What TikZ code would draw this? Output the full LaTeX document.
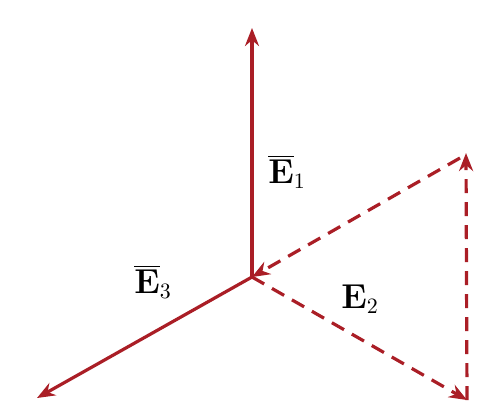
\documentclass[tikz,border=0pt]{standalone}
\usetikzlibrary{arrows.meta}
\definecolor{vecred}{RGB}{170,30,38}
\begin{document}
\begin{tikzpicture}
% field vectors, sizes taken in pixels of the sketch
\def\pxsz{0.5pt}
\tikzset{
  vec/.style={draw=vecred, line width=1.6pt, -{Stealth[length=9pt,width=7pt]}},
  dashvec/.style={vec, dash pattern=on 7pt off 4.5pt},
  lbl/.style={font=\fontsize{16}{19}\selectfont, inner sep=0pt}
}
\begin{scope}[x=\pxsz, y=-\pxsz]
  \useasboundingbox (0,0) rectangle (487,414);
  % Points
  \coordinate (o) at (252,277);
  \coordinate (e1) at (252,28);
  \coordinate (e3) at (37,398);
  \coordinate (bot) at (467,400);
  \coordinate (top) at (466,153);
  \coordinate (topl) at (460,158);
  % Solid vectors
  \draw[vec] (o) -- (e1);
  \draw[vec] (o) -- (e3);
  % Dashed triangle
  \draw[dashvec] (o) -- (bot);
  \draw[dashvec] (bot) -- (top);
  \draw[dashvec] (topl) -- (o);
  % Labels
  \node[lbl] (l1) at (287,172) {$\overline{\mathbf{E}}_1$};
  \node[lbl] (l3) at (153,282) {$\overline{\mathbf{E}}_3$};
  \node[lbl] (l2) at (360,299) {$\mathbf{E}_2$};
\end{scope}
\end{tikzpicture}
\end{document}
